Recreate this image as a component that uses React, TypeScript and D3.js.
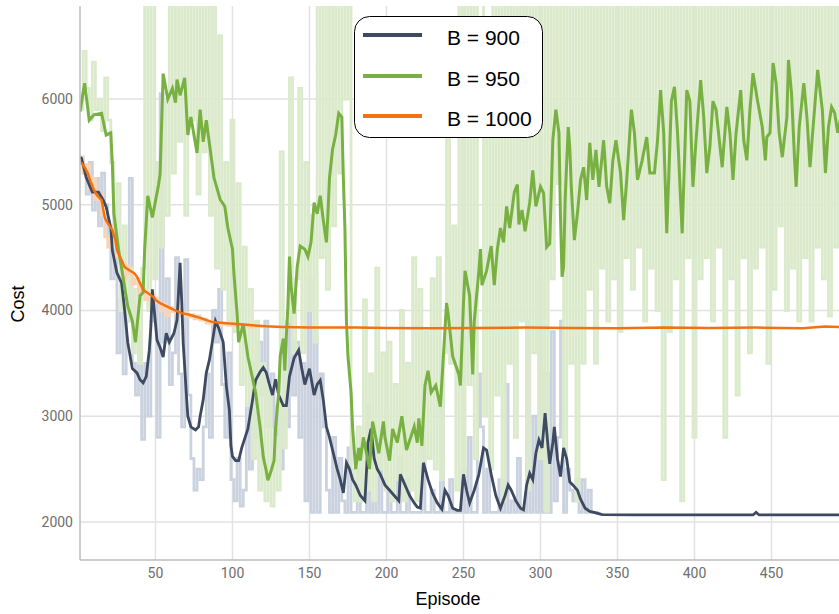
import React from "react";
import * as d3 from "d3";

// Axis ticks and legend labels
const episodeTicks = [50, 100, 150, 200, 250, 300, 350, 400, 450];
const costTicks = [2000, 3000, 4000, 5000, 6000];
const seriesLabels = ["B = 900", "B = 950", "B = 1000"];

// Raw episode cost, one value every 2 episodes starting at episode 1
const raw900 = [
  5450, 5300, 5100, 5400, 4950, 5250, 4800, 5300, 5000, 4700,
  4300, 5000, 3600, 4100, 3400, 3900, 5250, 3500, 3200, 3800,
  2780, 3500, 3000, 3900, 4100, 2800, 6050, 3700, 4300, 3300,
  3600, 4500, 3400, 2900, 4480, 3200, 2600, 2300, 2500, 2400,
  2900, 3400, 2800, 4000, 3700, 4200, 3300, 2800, 3600, 2400,
  2200, 2600, 2150, 2300, 3100, 2500, 3500, 2800, 3700, 3200,
  3900, 2900, 3400, 2700, 3100, 2500, 3700, 2900, 4000, 3200,
  3700, 2800, 3500, 2200, 4300, 2090, 3800, 2090, 3400, 2900,
  2300, 2090, 2800, 2090, 2600, 2200, 2090, 2700, 2090, 2090,
  2500, 2090, 2090, 3100, 2090, 2200, 2090, 2800, 2090, 2090,
  2300, 2090, 2090, 2600, 2090, 2090, 2400, 2090, 2090, 2090,
  2090, 2700, 2090, 2090, 2300, 2090, 2090, 3300, 2090, 2090,
  2400, 2090, 2090, 2090, 2500, 2090, 2800, 2090, 2090, 3400,
  2900, 2090, 2500, 2090, 2090, 2090, 2400, 2090, 3300, 2090,
  2200, 2090, 2600, 2090, 2090, 3900, 2090, 3000, 2090, 4300,
  2090, 3400, 2090, 3800, 2200, 2800, 3900, 2090, 2500, 2300,
  2200, 2400, 2090, 2400, 2090, 2300, 2090, 2090, 2080, 2080,
];

const raw950 = [
  5900, 6450, 6100, 5800, 6350, 5900, 6000, 5700, 6200, 5800,
  5400, 4600, 5200, 4000, 4800, 3900, 4400, 3600, 4200, 3500,
  4400, 7200, 4000, 7500, 4300, 5400, 4600, 6000, 4900, 7400,
  5300, 7500, 5600, 7300, 4900, 7600, 5800, 7200, 5100, 6900,
  5500, 7400, 4900, 7300, 4400, 6600, 4200, 5400, 3900, 5800,
  3800, 5200, 3300, 4600, 3100, 4200, 2600, 3900, 2300, 3500,
  2200, 3300, 2150, 2800, 2300, 5500, 2700, 3900, 6200, 3600,
  4300, 6100, 3600, 5400, 4000, 4900, 3700, 7400, 4500, 7300,
  4200, 7000, 4800, 7500, 5300, 7600, 6000, 7400, 2500, 2200,
  2900, 2200, 4100, 2300, 3400, 2200, 4400, 2500, 3600, 2300,
  3700, 2200, 3300, 2400, 4000, 2200, 3500, 2300, 4500, 2200,
  4200, 2500, 3800, 2600, 4300, 2500, 4500, 2400, 3600, 6100,
  3500, 4800, 2300, 6900, 2400, 7500, 3300, 7600, 2600, 7400,
  7500, 3000, 6400, 2500, 7200, 3200, 7600, 2200, 7400, 3500,
  7600, 2800, 7400, 3900, 7700, 2300, 7300, 3600, 7500, 2600,
  7600, 2100, 7300, 4300, 7600, 5200, 7500, 2600, 7400, 3500,
  7300, 2200, 7600, 3500, 7400, 4200, 7600, 3500, 7300, 4400,
  7500, 3900, 7600, 4300, 7400, 3800, 7600, 4500, 7700, 4200,
  7400, 4600, 7600, 3900, 7500, 4400, 7700, 4000, 7600, 2400,
  7400, 3800, 7600, 4300, 7500, 2200, 7700, 4500, 7400, 2800,
  7600, 4300, 7700, 4500, 7400, 3900, 7600, 4600, 7500, 2800,
  7600, 4300, 7400, 3200, 7600, 4500, 7700, 3600, 7500, 4400,
  7400, 4600, 7600, 3500, 7700, 4200, 7500, 4800, 7600, 4000,
  7700, 4400, 7500, 3900, 7600, 4500, 7400, 3900, 7700, 4600,
  7600, 4300, 7500, 3950, 7400, 4600, 7700, 4200, 7500, 4500,
];

const raw1000 = [
  5450, 5300, 5380, 5150, 5250, 5050, 5100, 4900, 4700, 4600,
  4800, 4650, 4500, 4450, 4300, 4420, 4350, 4250, 4300, 4150,
  4200, 4100, 4150, 4050, 4120, 4080, 4000, 4060, 3950, 4030,
  3990, 3970, 4010, 3950, 3980, 3940, 3960, 3920, 3950, 3910,
  3920, 3880, 3900, 3870, 3890, 3860, 3880, 3870, 3860, 3880,
  3860, 3850, 3870, 3850, 3860, 3840, 3855, 3845, 3850, 3840,
];

// Smoothed cost as [episode, cost]
const smooth900: [number, number][] = [
  [1, 5450], [2, 5440], [5, 5260], [9, 5120], [13, 5120], [16, 5045], [18, 4980],
  [21, 4780], [22, 4570], [25, 4355], [28, 4260], [30, 4000], [32, 3700], [35, 3450],
  [38, 3410], [40, 3345], [42, 3315], [44, 3375], [46, 3625], [47, 3845], [48, 4200],
  [49, 4035], [51, 3720], [53, 3650], [55, 3560], [57, 3785], [59, 3700], [62, 3785],
  [64, 3910], [66, 4450], [67, 4100], [68, 3690], [69, 3465], [70, 3220], [71, 3000],
  [73, 2900], [76, 2870], [78, 2900], [79, 3000], [81, 3155], [83, 3410], [85, 3530],
  [88, 3800], [89, 3900], [91, 3835], [94, 3700], [96, 3290], [98, 3055], [99, 2720],
  [100, 2620], [102, 2580], [104, 2580], [106, 2700], [110, 2880], [113, 3150], [115, 3340],
  [118, 3420], [120, 3460], [122, 3410], [124, 3300], [126, 3200], [128, 3350], [130, 3200],
  [133, 3100], [135, 3100], [137, 3375], [140, 3550], [143, 3625], [145, 3450], [147, 3300],
  [150, 3450], [153, 3200], [155, 3300], [157, 3340], [159, 3150], [161, 2900], [163, 2800],
  [165, 2680], [168, 2500], [170, 2400], [172, 2275], [174, 2560], [176, 2500], [178, 2400],
  [180, 2350], [183, 2250], [186, 2200], [188, 2750], [190, 2880], [192, 2600], [194, 2500],
  [196, 2450], [199, 2350], [202, 2300], [205, 2250], [208, 2200], [209, 2450], [212, 2350],
  [215, 2250], [218, 2180], [220, 2140], [222, 2130], [224, 2560], [227, 2400], [230, 2270],
  [233, 2180], [236, 2120], [238, 2300], [240, 2250], [243, 2130], [246, 2110], [248, 2110],
  [250, 2450], [252, 2300], [254, 2180], [257, 2300], [260, 2450], [263, 2700], [265, 2680],
  [268, 2450], [271, 2250], [274, 2130], [277, 2250], [279, 2350], [281, 2300], [284, 2200],
  [287, 2130], [289, 2115], [291, 2350], [293, 2460], [295, 2400], [297, 2650], [299, 2775],
  [301, 2700], [303, 3030], [305, 2700], [306, 2550], [308, 2750], [309, 2900], [311, 2600],
  [313, 2430], [315, 2700], [317, 2600], [319, 2380], [321, 2350], [324, 2300], [326, 2215],
  [329, 2130], [332, 2100], [336, 2085], [340, 2070], [360, 2066], [400, 2066], [438, 2066],
  [440, 2090], [442, 2066], [500, 2066],
];

const smooth950: [number, number][] = [
  [1, 5880], [4, 6150], [7, 5800], [10, 5850], [15, 5865], [18, 5660], [21, 5680],
  [22, 5390], [23, 4915], [26, 4580], [29, 4310], [32, 4040], [35, 3900], [37, 3700],
  [40, 4140], [42, 4170], [43, 4580], [45, 5085], [48, 4880], [52, 5190], [53, 5290],
  [55, 6240], [58, 6000], [61, 6100], [63, 5965], [64, 6185], [66, 6035], [69, 6200],
  [71, 5660], [73, 5830], [77, 5490], [79, 5900], [81, 5595], [83, 5800], [88, 5255],
  [92, 5050], [95, 4985], [97, 4780], [100, 4580], [101, 4340], [103, 3970], [104, 3700],
  [107, 3870], [110, 3565], [115, 3225], [118, 2890], [120, 2615], [122, 2480], [123, 2395],
  [125, 2480], [127, 2580], [128, 2890], [130, 3225], [131, 3565], [133, 3735], [134, 3430],
  [135, 3765], [136, 4040], [137, 4510], [138, 4240], [140, 3970], [142, 4410], [144, 4610],
  [147, 4580], [149, 4510], [151, 4645], [153, 5020], [155, 4915], [157, 5085], [159, 4850],
  [161, 4645], [162, 4915], [163, 5255], [165, 5525], [167, 5660], [169, 5865], [171, 5830],
  [172, 5255], [173, 4780], [174, 3900], [175, 3565], [177, 3225], [178, 2890], [180, 2500],
  [182, 2700], [183, 2580], [185, 2800], [189, 2500], [191, 2950], [193, 2800], [195, 2650],
  [198, 2950], [199, 2800], [202, 2580], [204, 2880], [207, 2750], [210, 3000], [213, 2680],
  [218, 2900], [220, 2750], [221, 2980], [223, 2720], [225, 3290], [227, 3430], [229, 3225],
  [232, 3290], [235, 3090], [239, 4070], [240, 3970], [243, 3565], [247, 3395], [248, 3290],
  [250, 4070], [251, 4375], [254, 4140], [256, 3395], [257, 3900], [260, 4375], [261, 4580],
  [262, 4240], [265, 4375], [268, 4610], [270, 4240], [272, 4580], [274, 4780], [276, 4645],
  [278, 4985], [280, 4780], [283, 5120], [285, 5190], [286, 4815], [288, 4950], [290, 4750],
  [293, 5020], [295, 5325], [297, 4985], [300, 5170], [302, 5110], [304, 4600], [306, 4635],
  [308, 5610], [310, 5900], [312, 5680], [313, 4885], [314, 4320], [315, 4410], [316, 5045],
  [318, 5735], [319, 5550], [320, 5170], [321, 4920], [322, 4665], [324, 4920], [326, 5235],
  [328, 5355], [330, 5045], [332, 5585], [334, 5235], [336, 5520], [338, 5170], [341, 5610],
  [343, 5170], [345, 5015], [347, 5420], [349, 5610], [352, 5300], [354, 4855], [356, 5235],
  [359, 5900], [361, 5680], [363, 5235], [366, 5420], [369, 5640], [371, 5300], [374, 5300],
  [376, 5610], [378, 6085], [380, 5680], [382, 4730], [385, 5980], [387, 6115], [389, 5680],
  [392, 4730], [395, 6085], [397, 5980], [399, 5170], [401, 5610], [404, 6180], [406, 5830],
  [408, 5300], [410, 5550], [412, 5980], [414, 5900], [418, 5355], [421, 5925], [423, 5680],
  [425, 5235], [427, 5680], [430, 6085], [432, 5610], [434, 5420], [436, 5900], [438, 6245],
  [441, 5980], [444, 5735], [446, 5420], [447, 5640], [449, 5680], [451, 6340], [453, 6150],
  [455, 5680], [457, 5450], [460, 5830], [461, 6370], [463, 6055], [465, 5420], [466, 5170],
  [468, 5735], [471, 6150], [473, 5830], [475, 5355], [477, 5735], [480, 6275], [483, 5900],
  [485, 5300], [487, 5735], [489, 5925], [491, 5870], [493, 5680], [496, 5900], [500, 5800],
];

const smooth1000: [number, number][] = [
  [1, 5400], [2, 5395], [4, 5355], [6, 5300], [8, 5215], [10, 5140], [12, 5090],
  [15, 5045], [17, 4885], [18, 4850], [22, 4760], [24, 4665], [25, 4570], [28, 4475],
  [30, 4410], [33, 4380], [36, 4355], [38, 4320], [42, 4195], [45, 4165], [49, 4125],
  [50, 4100], [53, 4070], [58, 4035], [62, 4005], [67, 3975], [72, 3960], [79, 3930],
  [87, 3890], [96, 3880], [105, 3870], [113, 3860], [122, 3850], [132, 3845], [150, 3840],
  [180, 3838], [200, 3835], [230, 3832], [260, 3835], [290, 3838], [320, 3835], [350, 3832],
  [380, 3840], [410, 3835], [440, 3838], [470, 3832], [485, 3848], [500, 3840],
];

const colors = {
  b900: "#3e4a61",
  b950: "#78b142",
  b1000: "#f07212",
  b900Raw: "#cbd2df",
  b950Raw: "#dbeacb",
  b1000Raw: "#fcd3b2",
};

const W = 839;
const H = 614;
const plotLeft = 80;
const plotTop = 6;
const plotBottom = 560;

export default function App() {
  const x = d3.scaleLinear().domain([1, 500]).range([plotLeft, 848.5]);
  const y = d3.scaleLinear().domain([1640, 6880]).range([plotBottom, plotTop]);

  const rawLine = d3
    .line<number>()
    .x((_, i) => x(1 + 2 * i))
    .y((d) => y(d))
    .curve(d3.curveStepAfter);

  const smoothLine = d3
    .line<[number, number]>()
    .x((d) => x(d[0]))
    .y((d) => y(d[1]));

  const legendColors = [colors.b900, colors.b950, colors.b1000];
  const legendRows = [35, 76, 116];

  return (
    <svg
      width={W}
      height={H}
      style={{ position: "absolute", left: 0, top: 0, background: "#fff" }}
    >
      <defs>
        <clipPath id="plot-clip">
          <rect x={plotLeft} y={plotTop} width={W - plotLeft} height={plotBottom - plotTop} />
        </clipPath>
      </defs>

      {/* grid */}
      <g stroke="#e2e2e2" strokeWidth={1.5}>
        {costTicks.map((t) => (
          <line key={"h" + t} x1={plotLeft} x2={W} y1={y(t)} y2={y(t)} />
        ))}
        {episodeTicks.map((t) => (
          <line key={"v" + t} x1={x(t)} x2={x(t)} y1={plotTop} y2={plotBottom} />
        ))}
      </g>

      {/* series: raw traces underneath, smoothed curves on top */}
      <g clipPath="url(#plot-clip)" fill="none" strokeLinejoin="miter">
        <path d={rawLine(raw900) || ""} stroke={colors.b900Raw} strokeWidth={2.8} />
        <path d={rawLine(raw950) || ""} stroke={colors.b950Raw} strokeWidth={2.8} />
        <path d={rawLine(raw1000) || ""} stroke={colors.b1000Raw} strokeWidth={2.8} />
        <path d={smoothLine(smooth900) || ""} stroke={colors.b900} strokeWidth={2.8} />
        <path d={smoothLine(smooth950) || ""} stroke={colors.b950} strokeWidth={3} />
        <path d={smoothLine(smooth1000) || ""} stroke={colors.b1000} strokeWidth={2.5} />
      </g>

      {/* axes */}
      <g stroke="#bdbdbd" strokeWidth={1.5}>
        <line x1={plotLeft} x2={plotLeft} y1={plotTop} y2={plotBottom} />
        <line x1={plotLeft} x2={W} y1={plotBottom} y2={plotBottom} />
      </g>

      <g fontFamily="Roboto, 'Liberation Sans', sans-serif" fontSize={14} fill="#6e6e6e">
        {costTicks.map((t) => (
          <text key={"yl" + t} x={73} y={y(t)} textAnchor="end" dominantBaseline="central">
            {t}
          </text>
        ))}
        {episodeTicks.map((t) => (
          <text key={"xl" + t} x={x(t)} y={578} textAnchor="middle">
            {t}
          </text>
        ))}
      </g>

      <g fontFamily="'Liberation Sans', Arial, sans-serif" fontSize={18} fill="#000">
        <text x={448} y={605} textAnchor="middle">
          Episode
        </text>
        <text transform="translate(24, 304) rotate(-90)" textAnchor="middle">
          Cost
        </text>
      </g>

      {/* legend */}
      <g>
        <rect
          x={354.5}
          y={16.5}
          width={188}
          height={121}
          rx={15}
          ry={15}
          fill="#fff"
          stroke="#000"
          strokeWidth={1}
        />
        {seriesLabels.map((label, i) => (
          <g key={label}>
            <line
              x1={363}
              x2={422}
              y1={legendRows[i]}
              y2={legendRows[i]}
              stroke={legendColors[i]}
              strokeWidth={4}
            />
            <text
              x={447}
              y={legendRows[i] + 10}
              fontFamily="'Liberation Sans', Arial, sans-serif"
              fontSize={21}
              fill="#000"
            >
              {label}
            </text>
          </g>
        ))}
      </g>
    </svg>
  );
}
